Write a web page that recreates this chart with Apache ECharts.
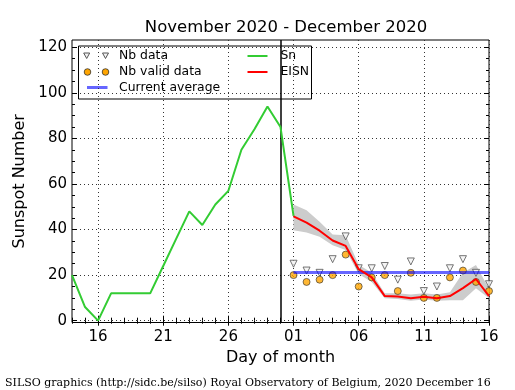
<!DOCTYPE html>
<html><head><meta charset="utf-8">
<script src="https://cdn.jsdelivr.net/npm/echarts@6/dist/echarts.min.js"></script>
<style>html,body{margin:0;padding:0;background:#fff}#c{width:515px;height:390px}</style>
</head><body><div id="c"></div>
<script>
// Categories: Nov 14 .. Dec 16, 2020
const dates = ['11-14','11-15','11-16','11-17','11-18','11-19','11-20','11-21','11-22','11-23','11-24','11-25','11-26','11-27','11-28','11-29','11-30',
               '12-01','12-02','12-03','12-04','12-05','12-06','12-07','12-08','12-09','12-10','12-11','12-12','12-13','12-14','12-15','12-16'];
// Daily sunspot number Sn, Nov 14 .. Dec 1
const snValues = [20, 6, 0, 12, 12, 12, 12, 24, 36, 48, 42, 51, 57, 75, 84, 94, 85, 46];
// December 1 .. 16
const decDates = dates.slice(17);
const eisnValues = [45.8, 43, 39.5, 35.2, 32.8, 22.6, 19, 10.8, 10.6, 9.8, 10.5, 9.8, 10.8, 14.3, 18.3, 10.8];
const eisnHigh   = [51, 48.5, 43.4, 37.8, 37.5, 24.5, 21, 12, 12, 11.5, 12, 11.5, 12.5, 21, 24.4, 14];
const eisnLow    = [39.7, 38.7, 36.8, 33.1, 31, 20.5, 17, 9.8, 9.5, 8.8, 9.3, 8.8, 9, 9, 14.2, 9.8];
const nbData     = [25, 22, 21, 27, 37, 23, 23, 24, 18, 26, 13, 15, 23, 27, 21, 16];
const nbValid    = [20, 17, 18, 20, 29, 15, 19, 20, 13, 21, 10, 10, 19, 22, 17, 13];
const currentAverage = 21.2;
const markerDate = '11-30';
const yMajorTicks = [0, 20, 40, 60, 80, 100, 120];
const yMinorTicks = [5, 10, 15, 25, 30, 35, 45, 50, 55, 65, 70, 75, 85, 90, 95, 105, 110, 115];
const xLabelIdx = [2, 7, 12, 17, 22, 27, 32];

const snData = snValues.map((v, i) => [dates[i], v]);
const decPairs = arr => arr.map((v, i) => [decDates[i], v]);
const bandDiff = eisnHigh.map((v, i) => +(v - eisnLow[i]).toFixed(2));
const avgData = decDates.map(d => [d, currentAverage]);

const isMajor = (idx) => xLabelIdx.indexOf(idx) >= 0;
const blk = '#000';
const font = 'DejaVu Sans';

function xAx(pos, major, labels) {
  return {
    type: 'category', data: dates, boundaryGap: false, position: pos, gridIndex: 0,
    axisLine: { show: false },
    axisTick: { show: true, inside: true, length: major ? 5 : 3, interval: major ? (i) => isMajor(i) : 0, lineStyle: { color: blk, width: 1 } },
    axisLabel: { show: labels, interval: (i) => isMajor(i), formatter: v => v.slice(3), color: blk, fontSize: 15, fontFamily: font, margin: 7 },
    splitLine: { show: labels, interval: (i) => isMajor(i), lineStyle: { color: '#333', type: [1, 3], width: 1 } },
    name: labels ? 'Day of month' : '', nameLocation: 'middle', nameGap: 27,
    nameTextStyle: { color: blk, fontSize: 16, fontFamily: font }
  };
}
function yAx(pos, major, labels) {
  return {
    type: 'value', min: -0.8, max: 123.2, position: pos, gridIndex: 0,
    axisLine: { show: false },
    axisTick: { show: true, inside: true, length: major ? 5 : 3, customValues: major ? yMajorTicks : yMinorTicks, lineStyle: { color: blk, width: 1 } },
    axisLabel: { show: labels, customValues: yMajorTicks, color: blk, fontSize: 15, fontFamily: font, margin: 5 },
    splitLine: { show: labels, lineStyle: { color: '#333', type: [1, 3], width: 1 } },
    name: labels ? 'Sunspot Number' : '', nameLocation: 'middle', nameGap: 36, nameRotate: 90,
    nameTextStyle: { color: blk, fontSize: 16, fontFamily: font }
  };
}

const chart = echarts.init(document.getElementById('c'), null, { renderer: 'canvas' });
const lx = 78, ly = 45.5;
chart.setOption({
  animation: false,
  backgroundColor: '#fff',
  title: [
    { text: 'November 2020 - December 2020', left: 281, top: 14, textAlign: 'center',
      textStyle: { color: blk, fontSize: 16.5, fontWeight: 'normal', fontFamily: font } },
    { text: 'SILSO graphics (http://sidc.be/silso) Royal Observatory of Belgium, 2020 December 16', left: 0, top: 373,
      textStyle: { color: blk, fontSize: 11, fontWeight: 'normal', fontFamily: 'DejaVu Serif' } }
  ],
  grid: { left: 72, right: 26, top: 40, bottom: 67.5, show: true, borderColor: blk, borderWidth: 1, backgroundColor: 'transparent', containLabel: false },
  xAxis: [xAx('bottom', true, true), xAx('bottom', false, false), xAx('top', true, false), xAx('top', false, false)],
  yAxis: [yAx('left', true, true), yAx('left', false, false), yAx('right', true, false), yAx('right', false, false)],
  series: [
    { name: 'band-low', type: 'line', data: decPairs(eisnLow), stack: 'band', symbol: 'none', z: 1,
      lineStyle: { opacity: 0 }, silent: true },
    { name: 'band', type: 'line', data: decPairs(bandDiff), stack: 'band', symbol: 'none', z: 1,
      lineStyle: { opacity: 0 }, areaStyle: { color: '#cccccc', opacity: 1 }, silent: true },
    { name: 'Nb data', type: 'scatter', data: decPairs(nbData), symbol: 'triangle', symbolRotate: 180, symbolSize: 7, z: 3,
      itemStyle: { color: '#f2f2f2', borderColor: '#555', borderWidth: 1 } },
    { name: 'Nb valid data', type: 'scatter', data: decPairs(nbValid), symbol: 'circle', symbolSize: 7, z: 4,
      itemStyle: { color: '#ffa500', borderColor: '#333', borderWidth: 0.8 } },
    { name: 'Current average', type: 'line', data: avgData, symbol: 'none', z: 5,
      lineStyle: { color: 'rgba(0,0,255,0.6)', width: 3 } },
    { name: 'Sn', type: 'line', data: snData, symbol: 'none', z: 6,
      lineStyle: { color: '#33cc33', width: 2 },
      markLine: { silent: true, symbol: ['none', 'none'], label: { show: false },
        lineStyle: { color: blk, type: 'solid', width: 1.5 }, data: [{ xAxis: markerDate }] } },
    { name: 'EISN', type: 'line', data: decPairs(eisnValues), symbol: 'none', z: 7,
      lineStyle: { color: '#ff0000', width: 2 } }
  ],
  graphic: [
    { type: 'group', left: lx, top: ly, z: 100, children: [
      { type: 'rect', shape: { x: 0, y: 0, width: 233, height: 53 }, style: { fill: '#fff', stroke: blk, lineWidth: 1 } },
      { type: 'polygon', shape: { points: [[5.2, 7], [11.2, 7], [8.2, 12.5]] }, style: { fill: '#f2f2f2', stroke: '#555', lineWidth: 1 } },
      { type: 'polygon', shape: { points: [[24, 7], [30, 7], [27, 12.5]] }, style: { fill: '#f2f2f2', stroke: '#555', lineWidth: 1 } },
      { type: 'circle', shape: { cx: 9, cy: 26, r: 3.3 }, style: { fill: '#ffa500', stroke: '#333', lineWidth: 0.8 } },
      { type: 'circle', shape: { cx: 27, cy: 26, r: 3.3 }, style: { fill: '#ffa500', stroke: '#333', lineWidth: 0.8 } },
      { type: 'line', shape: { x1: 8.5, y1: 41.5, x2: 29, y2: 41.5 }, style: { stroke: 'rgba(0,0,255,0.6)', lineWidth: 3 } },
      { type: 'line', shape: { x1: 169, y1: 10, x2: 189, y2: 10 }, style: { stroke: '#33cc33', lineWidth: 2 } },
      { type: 'line', shape: { x1: 169, y1: 26, x2: 189, y2: 26 }, style: { stroke: '#ff0000', lineWidth: 2 } },
      { type: 'text', x: 40.5, y: 10, style: { text: 'Nb data', fill: blk, font: '12.4px "DejaVu Sans"', textVerticalAlign: 'middle' } },
      { type: 'text', x: 40.5, y: 26, style: { text: 'Nb valid data', fill: blk, font: '12.4px "DejaVu Sans"', textVerticalAlign: 'middle' } },
      { type: 'text', x: 40.5, y: 41.5, style: { text: 'Current average', fill: blk, font: '12.4px "DejaVu Sans"', textVerticalAlign: 'middle' } },
      { type: 'text', x: 202, y: 10, style: { text: 'Sn', fill: blk, font: '12.4px "DejaVu Sans"', textVerticalAlign: 'middle' } },
      { type: 'text', x: 202, y: 26, style: { text: 'EISN', fill: blk, font: '12.4px "DejaVu Sans"', textVerticalAlign: 'middle' } }
    ] }
  ]
});
</script>
</body></html>
